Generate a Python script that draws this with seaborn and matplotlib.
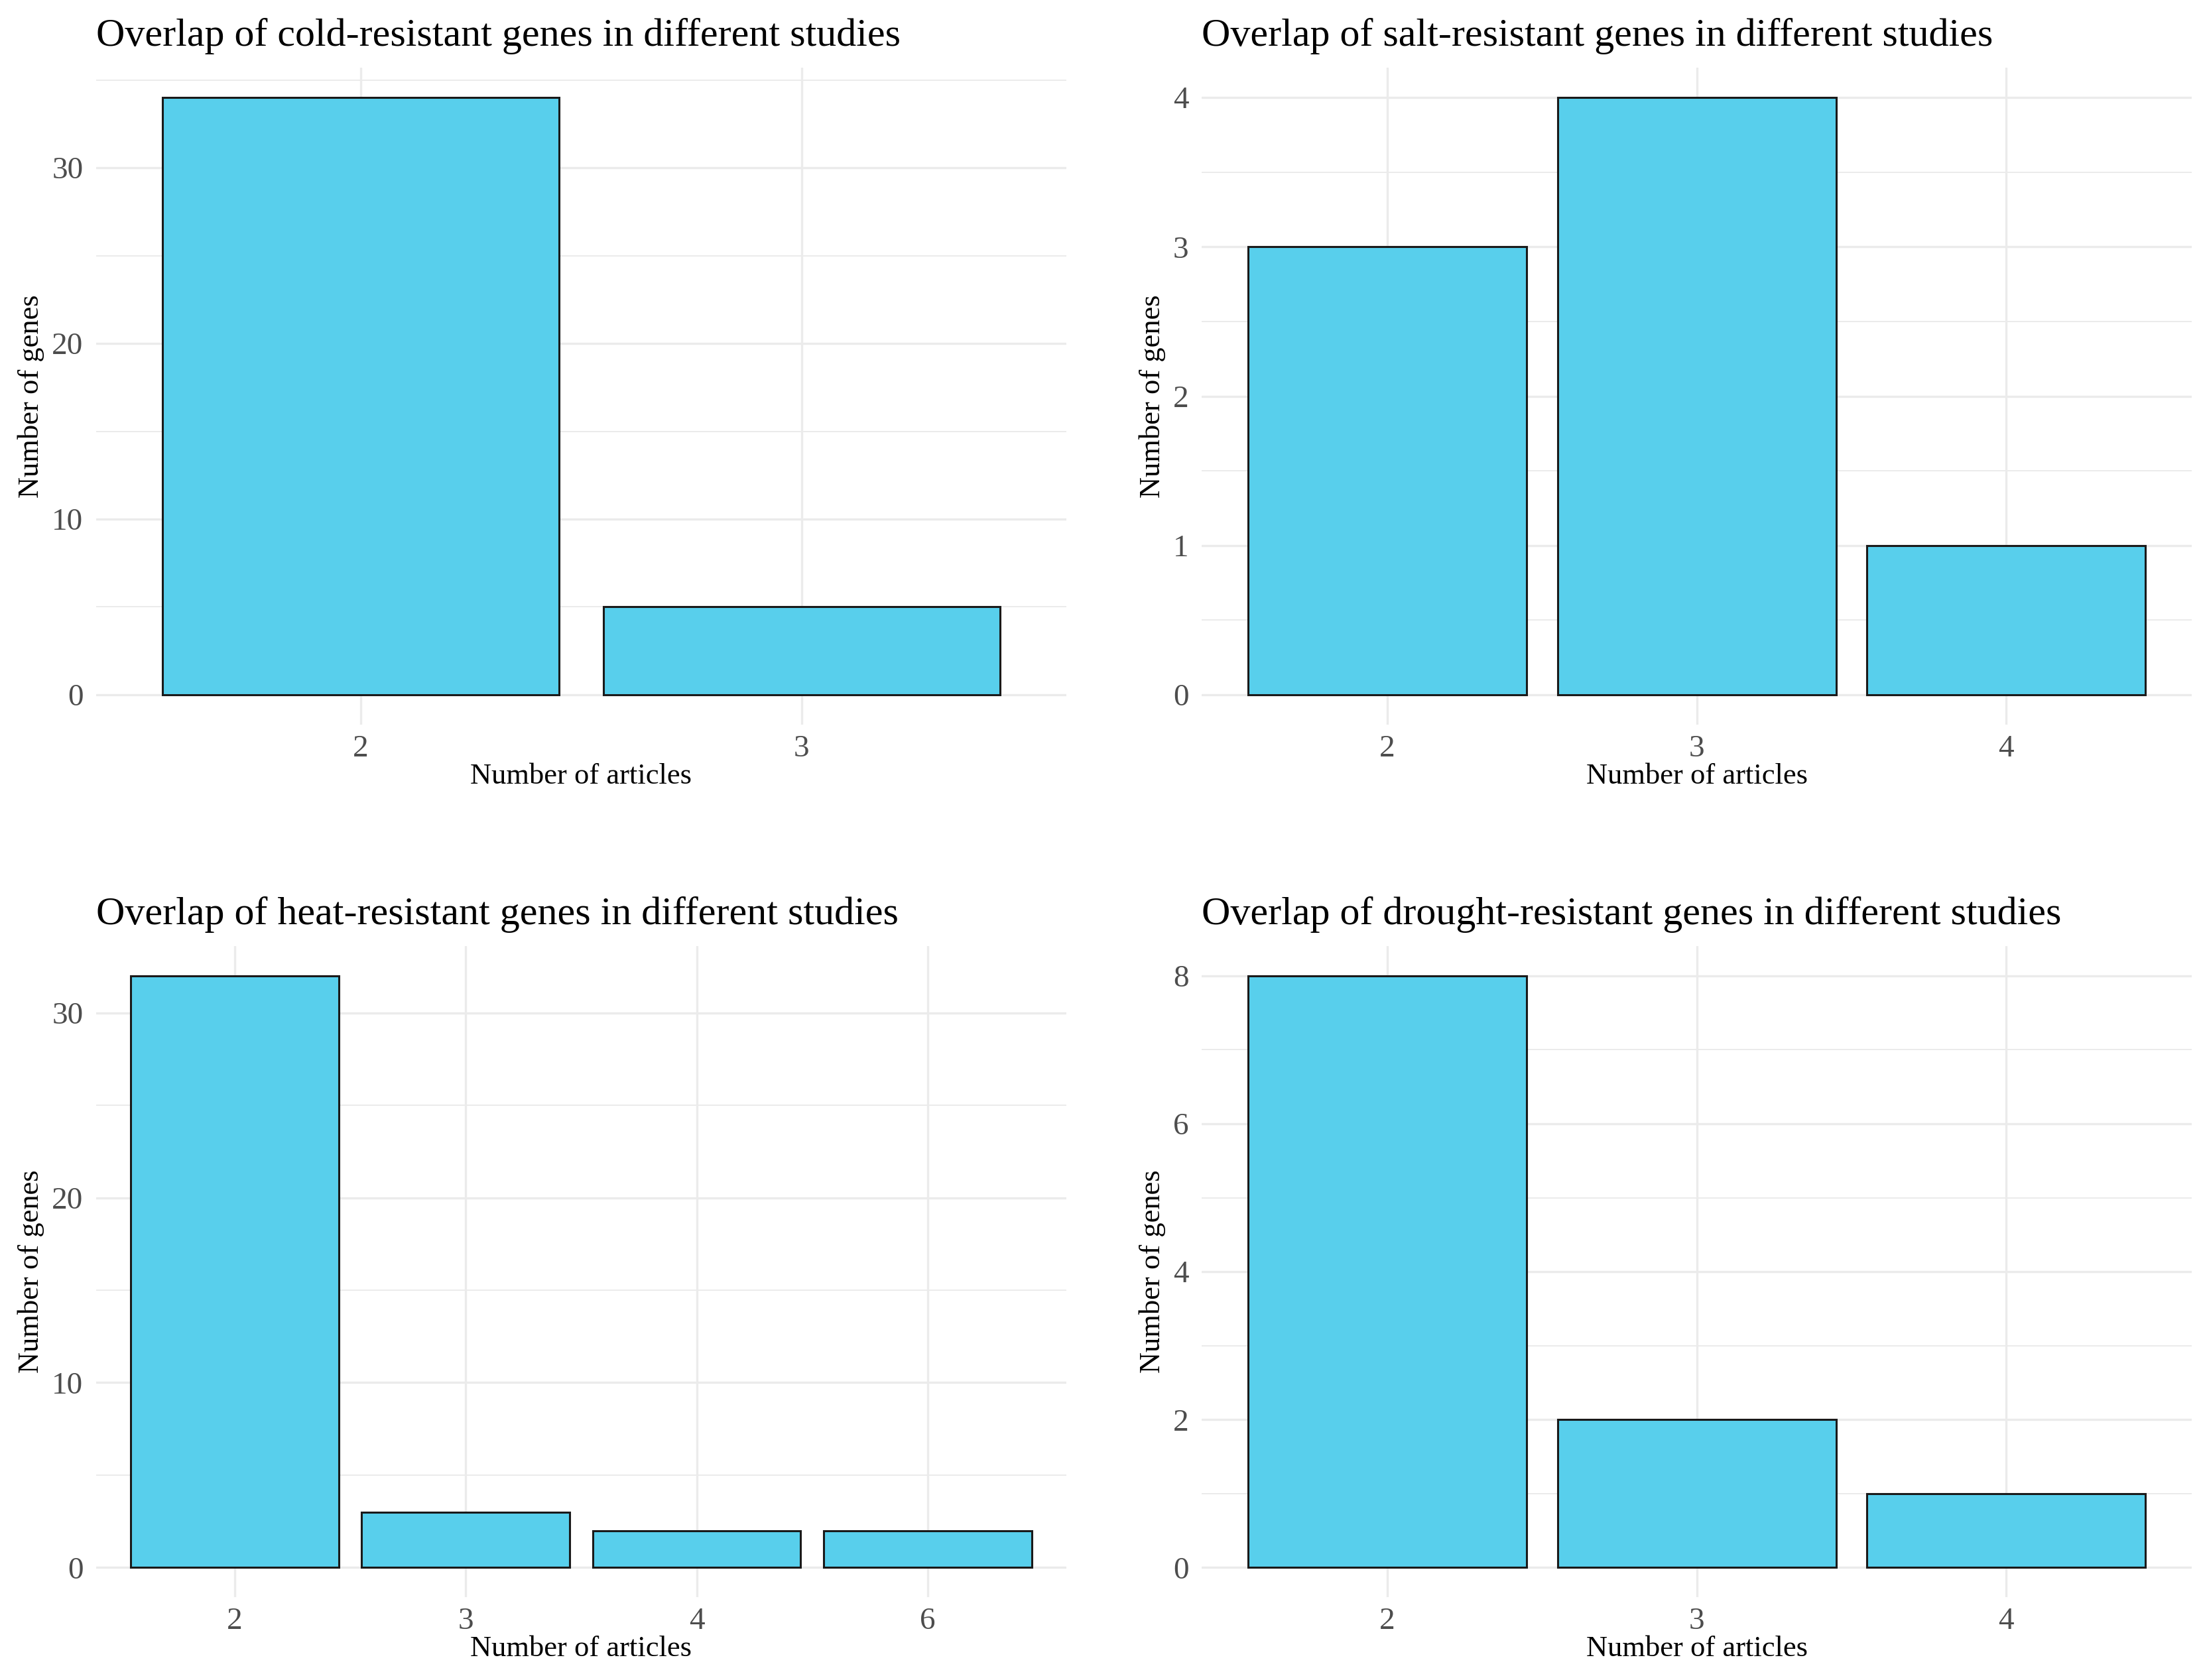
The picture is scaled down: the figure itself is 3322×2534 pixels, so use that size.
import pandas as pd
import matplotlib
matplotlib.use('Agg')
import matplotlib.pyplot as plt
from matplotlib.ticker import MultipleLocator, AutoMinorLocator
import seaborn as sns

# data
cold_articles = ['2', '3']
cold_genes = [34, 5]

salt_articles = ['2', '3', '4']
salt_genes = [3, 4, 1]

heat_articles = ['2', '3', '4', '6']
heat_genes = [32, 3, 2, 2]

drought_articles = ['2', '3', '4']
drought_genes = [8, 2, 1]

panels = [
    ('cold', cold_articles, cold_genes, 10),
    ('salt', salt_articles, salt_genes, 1),
    ('heat', heat_articles, heat_genes, 10),
    ('drought', drought_articles, drought_genes, 2),
]

sns.set_style('white')
plt.rcParams['font.family'] = ['Liberation Serif', 'DejaVu Serif']

bar_color = '#58CFEC'
grid_color = '#EBEBEB'

fig = plt.figure(figsize=(16.61, 12.67), dpi=200)
positions = [
    [0.0436, 0.5687, 0.4404, 0.391],
    [0.5455, 0.5687, 0.4494, 0.391],
    [0.0436, 0.0493, 0.4404, 0.3875],
    [0.5455, 0.0493, 0.4494, 0.3875],
]

for (name, arts, genes, step), pos in zip(panels, positions):
    ax = fig.add_axes(pos)
    df = pd.DataFrame({'articles': arts, 'genes': genes})
    sns.barplot(data=df, x='articles', y='genes', order=arts, color=bar_color,
                width=0.9, edgecolor='#1a1a1a', linewidth=1.1, saturation=1,
                ax=ax, zorder=3)
    n = len(arts)
    top = max(genes)
    ax.set_xlim(-0.6, n - 0.4)
    ax.set_ylim(-0.05 * top, 1.05 * top)
    ax.yaxis.set_major_locator(MultipleLocator(step))
    ax.yaxis.set_minor_locator(AutoMinorLocator(2))
    ax.grid(which='major', color=grid_color, linewidth=1.2, zorder=0)
    ax.grid(which='minor', axis='y', color=grid_color, linewidth=0.7, zorder=0)
    ax.set_axisbelow(True)
    for s in ax.spines.values():
        s.set_visible(False)
    ax.tick_params(which='both', length=0, labelsize=17, labelcolor='#4D4D4D')
    ax.tick_params(axis='x', pad=5.5)
    ax.tick_params(axis='y', pad=7)
    ax.set_title(f'Overlap of {name}-resistant genes in different studies',
                 loc='left', fontsize=21.6, pad=12, color='black')
    ax.set_xlabel('Number of articles', fontsize=16, labelpad=0, color='black')
    ax.set_ylabel('Number of genes', fontsize=16, labelpad=4, color='black')

fig.savefig('out.png', dpi=200, facecolor='white')
